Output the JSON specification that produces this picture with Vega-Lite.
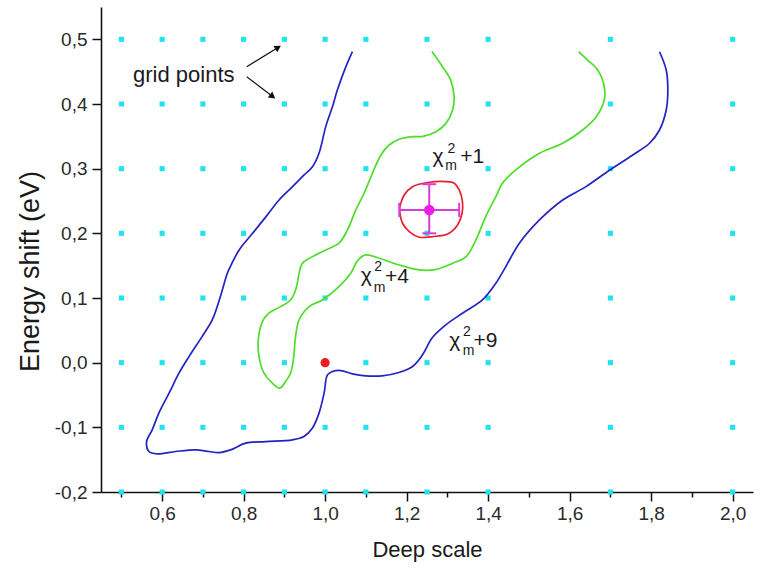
{
  "$schema": "https://vega.github.io/schema/vega-lite/v6.json",
  "width": 652,
  "height": 485,
  "autosize": {"type": "none"},
  "padding": {"left": 101, "top": 7, "right": 9, "bottom": 77},
  "background": "white",
  "config": {
    "view": {"stroke": null},
    "axis": {
      "grid": false,
      "domainColor": "#111",
      "domainWidth": 1.6,
      "tickColor": "#111",
      "tickWidth": 1.5,
      "labelFont": "Liberation Sans",
      "labelFontSize": 19,
      "labelColor": "#2a2a2a",
      "titleFont": "Liberation Sans",
      "titleFontWeight": "normal",
      "titleColor": "#1a1a1a",
      "labelOverlap": false,
      "labelFlush": false,
      "labelBound": false
    }
  },
  "datasets": {
    "grid": [
      {"x":0.5,"y":-0.2},{"x":0.6,"y":-0.2},{"x":0.7,"y":-0.2},{"x":0.8,"y":-0.2},{"x":0.9,"y":-0.2},{"x":1.0,"y":-0.2},{"x":1.1,"y":-0.2},{"x":1.25,"y":-0.2},{"x":1.4,"y":-0.2},{"x":1.7,"y":-0.2},{"x":2.0,"y":-0.2},
      {"x":0.5,"y":-0.1},{"x":0.6,"y":-0.1},{"x":0.7,"y":-0.1},{"x":0.8,"y":-0.1},{"x":0.9,"y":-0.1},{"x":1.0,"y":-0.1},{"x":1.1,"y":-0.1},{"x":1.25,"y":-0.1},{"x":1.4,"y":-0.1},{"x":1.7,"y":-0.1},{"x":2.0,"y":-0.1},
      {"x":0.5,"y":0.0},{"x":0.6,"y":0.0},{"x":0.7,"y":0.0},{"x":0.8,"y":0.0},{"x":0.9,"y":0.0},{"x":1.0,"y":0.0},{"x":1.1,"y":0.0},{"x":1.25,"y":0.0},{"x":1.4,"y":0.0},{"x":1.7,"y":0.0},{"x":2.0,"y":0.0},
      {"x":0.5,"y":0.1},{"x":0.6,"y":0.1},{"x":0.7,"y":0.1},{"x":0.8,"y":0.1},{"x":0.9,"y":0.1},{"x":1.0,"y":0.1},{"x":1.1,"y":0.1},{"x":1.25,"y":0.1},{"x":1.4,"y":0.1},{"x":1.7,"y":0.1},{"x":2.0,"y":0.1},
      {"x":0.5,"y":0.2},{"x":0.6,"y":0.2},{"x":0.7,"y":0.2},{"x":0.8,"y":0.2},{"x":0.9,"y":0.2},{"x":1.0,"y":0.2},{"x":1.1,"y":0.2},{"x":1.25,"y":0.2},{"x":1.4,"y":0.2},{"x":1.7,"y":0.2},{"x":2.0,"y":0.2},
      {"x":0.5,"y":0.3},{"x":0.6,"y":0.3},{"x":0.7,"y":0.3},{"x":0.8,"y":0.3},{"x":0.9,"y":0.3},{"x":1.0,"y":0.3},{"x":1.1,"y":0.3},{"x":1.25,"y":0.3},{"x":1.4,"y":0.3},{"x":1.7,"y":0.3},{"x":2.0,"y":0.3},
      {"x":0.5,"y":0.4},{"x":0.6,"y":0.4},{"x":0.7,"y":0.4},{"x":0.8,"y":0.4},{"x":0.9,"y":0.4},{"x":1.0,"y":0.4},{"x":1.1,"y":0.4},{"x":1.25,"y":0.4},{"x":1.4,"y":0.4},{"x":1.7,"y":0.4},{"x":2.0,"y":0.4},
      {"x":0.5,"y":0.5},{"x":0.6,"y":0.5},{"x":0.7,"y":0.5},{"x":0.8,"y":0.5},{"x":0.9,"y":0.5},{"x":1.0,"y":0.5},{"x":1.1,"y":0.5},{"x":1.25,"y":0.5},{"x":1.4,"y":0.5},{"x":1.7,"y":0.5},{"x":2.0,"y":0.5}
    ],
    "curves": [
      {"curve":"chi9","order":1,"x":1.067,"y":0.481},
      {"curve":"chi9","order":2,"x":1.051,"y":0.4577},
      {"curve":"chi9","order":3,"x":1.030,"y":0.4216},
      {"curve":"chi9","order":4,"x":1.018,"y":0.3958},
      {"curve":"chi9","order":5,"x":1.0015,"y":0.365},
      {"curve":"chi9","order":6,"x":0.985,"y":0.3238},
      {"curve":"chi9","order":7,"x":0.969,"y":0.303},
      {"curve":"chi9","order":8,"x":0.9484,"y":0.2903},
      {"curve":"chi9","order":9,"x":0.920,"y":0.2722},
      {"curve":"chi9","order":10,"x":0.887,"y":0.2516},
      {"curve":"chi9","order":11,"x":0.855,"y":0.2258},
      {"curve":"chi9","order":12,"x":0.822,"y":0.2001},
      {"curve":"chi9","order":13,"x":0.789,"y":0.1743},
      {"curve":"chi9","order":14,"x":0.770,"y":0.152},
      {"curve":"chi9","order":15,"x":0.760,"y":0.1383},
      {"curve":"chi9","order":16,"x":0.743,"y":0.1022},
      {"curve":"chi9","order":17,"x":0.723,"y":0.066},
      {"curve":"chi9","order":18,"x":0.698,"y":0.0403},
      {"curve":"chi9","order":19,"x":0.666,"y":0.0094},
      {"curve":"chi9","order":20,"x":0.6413,"y":-0.0163},
      {"curve":"chi9","order":21,"x":0.617,"y":-0.0472},
      {"curve":"chi9","order":22,"x":0.592,"y":-0.078},
      {"curve":"chi9","order":23,"x":0.5757,"y":-0.1039},
      {"curve":"chi9","order":24,"x":0.5618,"y":-0.122},
      {"curve":"chi9","order":25,"x":0.5676,"y":-0.1374},
      {"curve":"chi9","order":26,"x":0.588,"y":-0.141},
      {"curve":"chi9","order":27,"x":0.633,"y":-0.1374},
      {"curve":"chi9","order":28,"x":0.682,"y":-0.1348},
      {"curve":"chi9","order":29,"x":0.715,"y":-0.1374},
      {"curve":"chi9","order":30,"x":0.7396,"y":-0.139},
      {"curve":"chi9","order":31,"x":0.768,"y":-0.1348},
      {"curve":"chi9","order":32,"x":0.805,"y":-0.1244},
      {"curve":"chi9","order":33,"x":0.854,"y":-0.122},
      {"curve":"chi9","order":34,"x":0.920,"y":-0.1193},
      {"curve":"chi9","order":35,"x":0.948,"y":-0.1142},
      {"curve":"chi9","order":36,"x":0.969,"y":-0.101},
      {"curve":"chi9","order":37,"x":0.985,"y":-0.078},
      {"curve":"chi9","order":38,"x":0.9975,"y":-0.0472},
      {"curve":"chi9","order":39,"x":1.0057,"y":-0.0189},
      {"curve":"chi9","order":40,"x":1.018,"y":-0.0137},
      {"curve":"chi9","order":41,"x":1.0385,"y":-0.0122},
      {"curve":"chi9","order":42,"x":1.067,"y":-0.0173},
      {"curve":"chi9","order":43,"x":1.099,"y":-0.0204},
      {"curve":"chi9","order":44,"x":1.140,"y":-0.0204},
      {"curve":"chi9","order":45,"x":1.181,"y":-0.0153},
      {"curve":"chi9","order":46,"x":1.2145,"y":-0.006},
      {"curve":"chi9","order":47,"x":1.239,"y":0.0121},
      {"curve":"chi9","order":48,"x":1.262,"y":0.0378},
      {"curve":"chi9","order":49,"x":1.296,"y":0.0584},
      {"curve":"chi9","order":50,"x":1.337,"y":0.0765},
      {"curve":"chi9","order":51,"x":1.386,"y":0.097},
      {"curve":"chi9","order":52,"x":1.419,"y":0.1229},
      {"curve":"chi9","order":53,"x":1.442,"y":0.147},
      {"curve":"chi9","order":54,"x":1.4767,"y":0.1847},
      {"curve":"chi9","order":55,"x":1.526,"y":0.2207},
      {"curve":"chi9","order":56,"x":1.583,"y":0.2516},
      {"curve":"chi9","order":57,"x":1.640,"y":0.2722},
      {"curve":"chi9","order":58,"x":1.6986,"y":0.298},
      {"curve":"chi9","order":59,"x":1.755,"y":0.3212},
      {"curve":"chi9","order":60,"x":1.796,"y":0.3393},
      {"curve":"chi9","order":61,"x":1.8206,"y":0.3598},
      {"curve":"chi9","order":62,"x":1.837,"y":0.3907},
      {"curve":"chi9","order":63,"x":1.841,"y":0.4216},
      {"curve":"chi9","order":64,"x":1.837,"y":0.4526},
      {"curve":"chi9","order":65,"x":1.8206,"y":0.4808},
      {"curve":"chi4","order":1,"x":1.262,"y":0.481},
      {"curve":"chi4","order":2,"x":1.288,"y":0.4577},
      {"curve":"chi4","order":3,"x":1.308,"y":0.437},
      {"curve":"chi4","order":4,"x":1.3167,"y":0.4113},
      {"curve":"chi4","order":5,"x":1.3128,"y":0.3907},
      {"curve":"chi4","order":6,"x":1.2965,"y":0.370},
      {"curve":"chi4","order":7,"x":1.272,"y":0.3572},
      {"curve":"chi4","order":8,"x":1.240,"y":0.350},
      {"curve":"chi4","order":9,"x":1.2145,"y":0.3495},
      {"curve":"chi4","order":10,"x":1.1818,"y":0.3454},
      {"curve":"chi4","order":11,"x":1.157,"y":0.3366},
      {"curve":"chi4","order":12,"x":1.137,"y":0.3212},
      {"curve":"chi4","order":13,"x":1.116,"y":0.2929},
      {"curve":"chi4","order":14,"x":1.0958,"y":0.262},
      {"curve":"chi4","order":15,"x":1.0754,"y":0.2362},
      {"curve":"chi4","order":16,"x":1.0548,"y":0.2053},
      {"curve":"chi4","order":17,"x":1.034,"y":0.1847},
      {"curve":"chi4","order":18,"x":1.0015,"y":0.1743},
      {"curve":"chi4","order":19,"x":0.969,"y":0.164},
      {"curve":"chi4","order":20,"x":0.9443,"y":0.1538},
      {"curve":"chi4","order":21,"x":0.938,"y":0.1434},
      {"curve":"chi4","order":22,"x":0.9275,"y":0.1125},
      {"curve":"chi4","order":23,"x":0.915,"y":0.097},
      {"curve":"chi4","order":24,"x":0.8906,"y":0.0867},
      {"curve":"chi4","order":25,"x":0.862,"y":0.0765},
      {"curve":"chi4","order":26,"x":0.846,"y":0.0636},
      {"curve":"chi4","order":27,"x":0.836,"y":0.0352},
      {"curve":"chi4","order":28,"x":0.8378,"y":0.0094},
      {"curve":"chi4","order":29,"x":0.850,"y":-0.0163},
      {"curve":"chi4","order":30,"x":0.8705,"y":-0.0317},
      {"curve":"chi4","order":31,"x":0.889,"y":-0.0395},
      {"curve":"chi4","order":32,"x":0.903,"y":-0.0292},
      {"curve":"chi4","order":33,"x":0.915,"y":-0.0163},
      {"curve":"chi4","order":34,"x":0.922,"y":0.0043},
      {"curve":"chi4","order":35,"x":0.9275,"y":0.0403},
      {"curve":"chi4","order":36,"x":0.936,"y":0.066},
      {"curve":"chi4","order":37,"x":0.9607,"y":0.0867},
      {"curve":"chi4","order":38,"x":0.9934,"y":0.097},
      {"curve":"chi4","order":39,"x":1.034,"y":0.1176},
      {"curve":"chi4","order":40,"x":1.063,"y":0.1383},
      {"curve":"chi4","order":41,"x":1.080,"y":0.158},
      {"curve":"chi4","order":42,"x":1.099,"y":0.1666},
      {"curve":"chi4","order":43,"x":1.1327,"y":0.1615},
      {"curve":"chi4","order":44,"x":1.182,"y":0.151},
      {"curve":"chi4","order":45,"x":1.231,"y":0.1434},
      {"curve":"chi4","order":46,"x":1.270,"y":0.1440},
      {"curve":"chi4","order":47,"x":1.313,"y":0.1538},
      {"curve":"chi4","order":48,"x":1.346,"y":0.164},
      {"curve":"chi4","order":49,"x":1.370,"y":0.1898},
      {"curve":"chi4","order":50,"x":1.394,"y":0.2258},
      {"curve":"chi4","order":51,"x":1.419,"y":0.2567},
      {"curve":"chi4","order":52,"x":1.435,"y":0.2774},
      {"curve":"chi4","order":53,"x":1.468,"y":0.298},
      {"curve":"chi4","order":54,"x":1.526,"y":0.3238},
      {"curve":"chi4","order":55,"x":1.583,"y":0.3393},
      {"curve":"chi4","order":56,"x":1.632,"y":0.3598},
      {"curve":"chi4","order":57,"x":1.665,"y":0.380},
      {"curve":"chi4","order":58,"x":1.685,"y":0.4062},
      {"curve":"chi4","order":59,"x":1.685,"y":0.4267},
      {"curve":"chi4","order":60,"x":1.669,"y":0.4526},
      {"curve":"chi4","order":61,"x":1.644,"y":0.468},
      {"curve":"chi4","order":62,"x":1.622,"y":0.481},
      {"curve":"chi1","order":1,"x":1.1835,"y":0.2413},
      {"curve":"chi1","order":2,"x":1.194,"y":0.2593},
      {"curve":"chi1","order":3,"x":1.2145,"y":0.2722},
      {"curve":"chi1","order":4,"x":1.2555,"y":0.279},
      {"curve":"chi1","order":5,"x":1.2965,"y":0.280},
      {"curve":"chi1","order":6,"x":1.317,"y":0.2774},
      {"curve":"chi1","order":7,"x":1.329,"y":0.2671},
      {"curve":"chi1","order":8,"x":1.337,"y":0.249},
      {"curve":"chi1","order":9,"x":1.336,"y":0.231},
      {"curve":"chi1","order":10,"x":1.325,"y":0.213},
      {"curve":"chi1","order":11,"x":1.3006,"y":0.199},
      {"curve":"chi1","order":12,"x":1.264,"y":0.195},
      {"curve":"chi1","order":13,"x":1.231,"y":0.194},
      {"curve":"chi1","order":14,"x":1.2064,"y":0.2026},
      {"curve":"chi1","order":15,"x":1.190,"y":0.2156},
      {"curve":"chi1","order":16,"x":1.1835,"y":0.231},
      {"curve":"chi1","order":17,"x":1.1835,"y":0.2413}
    ],
    "errbars": [
      {"x":1.182,"y":0.2362,"x2":1.329,"y2":0.2362},
      {"x":1.2555,"y":0.200,"x2":1.2555,"y2":0.276},
      {"x":1.182,"y":0.2252,"x2":1.182,"y2":0.2472},
      {"x":1.329,"y":0.2252,"x2":1.329,"y2":0.2472},
      {"x":1.2385,"y":0.276,"x2":1.2725,"y2":0.276},
      {"x":1.2385,"y":0.200,"x2":1.2725,"y2":0.200}
    ],
    "arrows": [
      {"id":"up","x":0.8076,"y":0.4576,"x2":0.8846,"y2":0.4874},
      {"id":"down","x":0.8076,"y":0.4422,"x2":0.8712,"y2":0.4116}
    ],
    "markers": [
      {"id":"start","x":1.0,"y":0.0},
      {"id":"best","x":1.2555,"y":0.2362}
    ],
    "labels": [
      {"kind":"big","text":"grid points","x":0.5286,"y":0.4344},
      {"kind":"main","text":"χ","x":1.2636,"y":0.3083},
      {"kind":"main","text":"+1","x":1.3317,"y":0.3095},
      {"kind":"sub","text":"m","x":1.2950,"y":0.2975},
      {"kind":"sup","text":"2","x":1.3002,"y":0.3250},
      {"kind":"main","text":"χ","x":1.0877,"y":0.1254},
      {"kind":"main","text":"+4","x":1.147,"y":0.1229},
      {"kind":"sub","text":"m","x":1.1195,"y":0.1094},
      {"kind":"sup","text":"2","x":1.1203,"y":0.1420},
      {"kind":"main","text":"χ","x":1.3047,"y":0.0249},
      {"kind":"main","text":"+9","x":1.3639,"y":0.0249},
      {"kind":"sub","text":"m","x":1.3380,"y":0.0116},
      {"kind":"sup","text":"2","x":1.3384,"y":0.0415}
    ]
  },
  "layer": [
    {
      "data": {"name": "grid"},
      "mark": {"type": "point", "shape": "square", "filled": true, "size": 26, "color": "#22e2ee", "opacity": 1},
      "encoding": {
        "x": {
          "field": "x", "type": "quantitative",
          "scale": {"domain": [0.45, 2.05], "nice": false, "zero": false},
          "axis": {
            "title": "Deep scale",
            "titleFontSize": 22,
            "titlePadding": 16,
            "values": [0.5,0.6,0.7,0.8,0.9,1.0,1.1,1.2,1.3,1.4,1.5,1.6,1.7,1.8,1.9,2.0],
            "labelExpr": "round(datum.value*10)%2==0 ? replace(format(datum.value,'.1f'),'.',',') : ''",
            "tickSize": {"condition": {"test": "round(datum.value*10)%2==0", "value": 9}, "value": 5},
            "labelPadding": 3
          }
        },
        "y": {
          "field": "y", "type": "quantitative",
          "scale": {"domain": [-0.2, 0.55], "nice": false, "zero": false},
          "axis": {
            "title": "Energy shift (eV)",
            "titleFontSize": 27,
            "titlePadding": 10,
            "titleY": 264,
            "values": [-0.2,-0.15,-0.1,-0.05,0,0.05,0.1,0.15,0.2,0.25,0.3,0.35,0.4,0.45,0.5,0.55],
            "labelExpr": "round(datum.value*100)%10==0 ? replace(replace(format(datum.value,'.1f'),'.',','),'\u2212','-') : ''",
            "tickSize": {"condition": {"test": "round(datum.value*100)%10==0", "value": 9}, "value": 5},
            "labelPadding": 5
          }
        }
      }
    },
    {
      "data": {"name": "curves"},
      "mark": {"type": "line", "strokeWidth": 1.7, "interpolate": "catmull-rom"},
      "encoding": {
        "x": {"field": "x", "type": "quantitative"},
        "y": {"field": "y", "type": "quantitative"},
        "order": {"field": "order", "type": "quantitative"},
        "color": {"field": "curve", "type": "nominal", "scale": {"domain": ["chi9","chi4","chi1"], "range": ["#2323c4","#4ddd2a","#e4222c"]}, "legend": null}
      }
    },
    {
      "data": {"name": "errbars"},
      "mark": {"type": "rule", "color": "#dc3adc", "strokeWidth": 2},
      "encoding": {
        "x": {"field": "x", "type": "quantitative"},
        "y": {"field": "y", "type": "quantitative"},
        "x2": {"field": "x2"},
        "y2": {"field": "y2"}
      }
    },
    {
      "data": {"name": "arrows"},
      "mark": {"type": "rule", "color": "#111", "strokeWidth": 1.2},
      "encoding": {
        "x": {"field": "x", "type": "quantitative"},
        "y": {"field": "y", "type": "quantitative"},
        "x2": {"field": "x2"},
        "y2": {"field": "y2"}
      }
    },
    {
      "data": {"name": "arrows"},
      "transform": [{"filter": "datum.id == 'up'"}],
      "mark": {"type": "point", "shape": "triangle-up", "filled": true, "size": 55, "color": "#111", "angle": 59, "opacity": 1},
      "encoding": {
        "x": {"field": "x2", "type": "quantitative"},
        "y": {"field": "y2", "type": "quantitative"}
      }
    },
    {
      "data": {"name": "arrows"},
      "transform": [{"filter": "datum.id == 'down'"}],
      "mark": {"type": "point", "shape": "triangle-up", "filled": true, "size": 55, "color": "#111", "angle": 127, "opacity": 1},
      "encoding": {
        "x": {"field": "x2", "type": "quantitative"},
        "y": {"field": "y2", "type": "quantitative"}
      }
    },
    {
      "data": {"name": "markers"},
      "transform": [{"filter": "datum.id == 'start'"}],
      "mark": {"type": "circle", "size": 85, "color": "#ee1c1c", "opacity": 1},
      "encoding": {
        "x": {"field": "x", "type": "quantitative"},
        "y": {"field": "y", "type": "quantitative"}
      }
    },
    {
      "data": {"name": "markers"},
      "transform": [{"filter": "datum.id == 'best'"}],
      "mark": {"type": "circle", "size": 110, "color": "#e820e8", "opacity": 1},
      "encoding": {
        "x": {"field": "x", "type": "quantitative"},
        "y": {"field": "y", "type": "quantitative"}
      }
    },
    {
      "data": {"name": "labels"},
      "transform": [{"filter": "datum.kind == 'big'"}],
      "mark": {"type": "text", "align": "left", "baseline": "alphabetic", "font": "Liberation Sans", "fontSize": 22, "color": "#1a1a1a"},
      "encoding": {
        "x": {"field": "x", "type": "quantitative"},
        "y": {"field": "y", "type": "quantitative"},
        "text": {"field": "text"}
      }
    },
    {
      "data": {"name": "labels"},
      "transform": [{"filter": "datum.kind == 'main'"}],
      "mark": {"type": "text", "align": "left", "baseline": "alphabetic", "font": "Liberation Sans", "fontSize": 21, "color": "#1a1a1a"},
      "encoding": {
        "x": {"field": "x", "type": "quantitative"},
        "y": {"field": "y", "type": "quantitative"},
        "text": {"field": "text"}
      }
    },
    {
      "data": {"name": "labels"},
      "transform": [{"filter": "datum.kind == 'sub' || datum.kind == 'sup'"}],
      "mark": {"type": "text", "align": "left", "baseline": "alphabetic", "font": "Liberation Sans", "fontSize": 14, "color": "#1a1a1a"},
      "encoding": {
        "x": {"field": "x", "type": "quantitative"},
        "y": {"field": "y", "type": "quantitative"},
        "text": {"field": "text"}
      }
    }
  ]
}
